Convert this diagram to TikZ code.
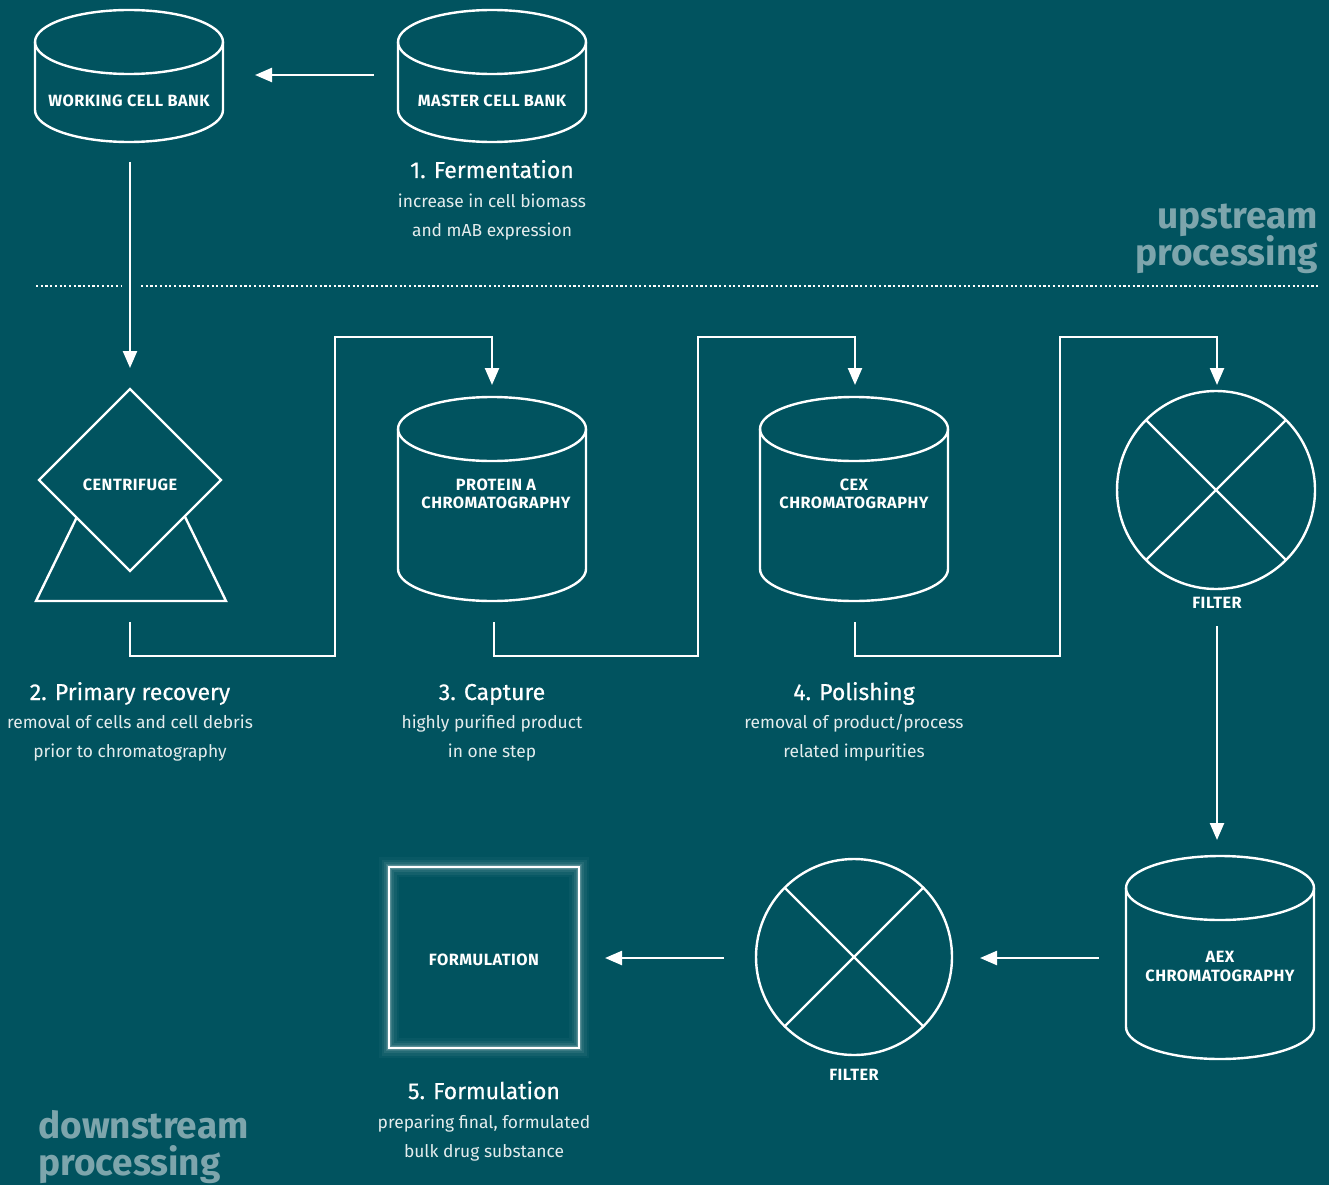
\documentclass[tikz,border=0pt]{standalone}
\usepackage{fontspec}
\setmainfont{Fira Sans}
\newfontfamily\lblfont[LetterSpace=3]{Fira Sans}
\newfontfamily\headfont[FakeBold=0.6]{Fira Sans}
\usetikzlibrary{arrows.meta}
\definecolor{bg}{HTML}{01535F}
\definecolor{pale}{HTML}{7DA5AC}
\definecolor{soft}{HTML}{E4ECED}
\tikzset{
 shp/.style={draw=white, line width=2.4pt},
 conn/.style={draw=white, line width=2.4pt, -{Triangle[length=17pt,width=14pt]}},
 lbl/.style={text=white, font=\lblfont\bfseries\fontsize{16.3}{18}\selectfont, anchor=base, inner sep=0pt},
 head/.style={text=white, font=\headfont\fontsize{23}{26}\selectfont, anchor=base, inner sep=0pt},
 body/.style={text=soft, font=\fontsize{17.4}{20}\selectfont, anchor=base, inner sep=0pt},
 big/.style={text=pale, font=\bfseries\fontsize{37}{40}\selectfont, inner sep=0pt},
 dots/.style={draw=white, line width=2pt, dash pattern=on 2.2pt off 2.5pt},
}
\newcommand\cylshape[3]{%
 \draw[shp] (#1,#2) ellipse [x radius=94, y radius=32];
 \draw[shp] (#1-94,#2) -- (#1-94,#3) arc[start angle=180, end angle=0, x radius=94, y radius=32] -- (#1+94,#2);}
\begin{document}
\begin{tikzpicture}[x=1pt,y=-1pt]
\fill[bg] (0,0) rectangle (1329,1185);
\useasboundingbox (0,0) rectangle (1329,1185);

% dotted separator
\draw[dots] (36,286) -- (122,286);
\draw[dots] (141,286) -- (1318,286);

% cylinders
\cylshape{129}{42}{110}
\cylshape{492}{42}{110}
\cylshape{492}{429}{569}
\cylshape{854}{429}{569}
\cylshape{1220}{888}{1027}

% centrifuge
\draw[shp] (36,601) -- (131,406) -- (226,601) -- cycle;
\draw[shp, fill=bg] (130,389) -- (221,480) -- (130,571) -- (39,480) -- cycle;

% filters
\draw[shp] (1216,490) circle[radius=99];
\draw[shp] (1146,420) -- (1286,560);
\draw[shp] (1286,420) -- (1146,560);
\draw[shp] (854,957) circle[radius=98];
\draw[shp] (785,888) -- (923,1026);
\draw[shp] (923,888) -- (785,1026);

% formulation box with glow
\foreach \w/\o in {20/0.03,15/0.05,10/0.07,6/0.1,4/0.15}
  \draw[white, line width=\w pt, opacity=\o] (389,867) rectangle (579,1048);
\draw[shp] (389,867) rectangle (579,1048);

% labels inside shapes
\node[lbl] (wcb) at (129,107) {WORKING CELL BANK};
\node[lbl] (mcb) at (492,107) {MASTER CELL BANK};
\node[lbl] (cf) at (130,490) {CENTRIFUGE};
\node[lbl] (pa1) at (496,490) {PROTEIN A};
\node[lbl] (pa2) at (496,508) {CHROMATOGRAPHY};
\node[lbl] (cex1) at (854,490) {CEX};
\node[lbl] (cex2) at (854,508) {CHROMATOGRAPHY};
\node[lbl] (f1) at (1217,608) {FILTER};
\node[lbl] (aex1) at (1220,962) {AEX};
\node[lbl] (aex2) at (1220,981) {CHROMATOGRAPHY};
\node[lbl] (f2) at (854,1080) {FILTER};
\node[lbl] (form) at (484,965) {FORMULATION};

% step headings and descriptions
\node[head] (h1) at (492,178) {1. Fermentation};
\node[body] (b1a) at (492,207) {increase in cell biomass};
\node[body] (b1b) at (492,236) {and mAB expression};
\node[head] (h2) at (130,700) {2. Primary recovery};
\node[body] (b2a) at (130,728) {removal of cells and cell debris};
\node[body] (b2b) at (130,757) {prior to chromatography};
\node[head] (h3) at (492,700) {3. Capture};
\node[body] (b3a) at (492,728) {highly purified product};
\node[body] (b3b) at (492,757) {in one step};
\node[head] (h4) at (854,700) {4. Polishing};
\node[body] (b4a) at (854,728) {removal of product/process};
\node[body] (b4b) at (854,757) {related impurities};
\node[head] (h5) at (484,1099) {5. Formulation};
\node[body] (b5a) at (484,1128) {preparing final, formulated};
\node[body] (b5b) at (484,1157) {bulk drug substance};

% section titles
\node[big, anchor=base east] (up1) at (1318,228) {upstream};
\node[big, anchor=base east] (up2) at (1318,265) {processing};
\node[big, anchor=base west] (dn1) at (38,1138) {downstream};
\node[big, anchor=base west] (dn2) at (38,1175) {processing};

% connector end points
\coordinate (mcbL) at (374,75);
\coordinate (wcbR) at (255,75);
\coordinate (wcbB) at (130,162);
\coordinate (cfT) at (130,368);
\coordinate (cfB) at (130,622);
\coordinate (paT) at (492,385);
\coordinate (paB) at (494,622);
\coordinate (cexT) at (855,385);
\coordinate (cexB) at (855,622);
\coordinate (f1T) at (1217,385);
\coordinate (f1B) at (1217,626);
\coordinate (aexT) at (1217,840);
\coordinate (aexL) at (1099,958);
\coordinate (f2R) at (980,958);
\coordinate (f2L) at (724,958);
\coordinate (formR) at (605,958);

% connectors
\draw[conn] (mcbL) -- (wcbR);
\draw[conn] (wcbB) -- (cfT);
\draw[conn] (cfB) -- (130,656) -- (335,656) -- (335,337) -- (492,337) -- (paT);
\draw[conn] (paB) -- (494,656) -- (698,656) -- (698,337) -- (855,337) -- (cexT);
\draw[conn] (cexB) -- (855,656) -- (1060,656) -- (1060,337) -- (1217,337) -- (f1T);
\draw[conn] (f1B) -- (aexT);
\draw[conn] (aexL) -- (f2R);
\draw[conn] (f2L) -- (formR);
\end{tikzpicture}
\end{document}
